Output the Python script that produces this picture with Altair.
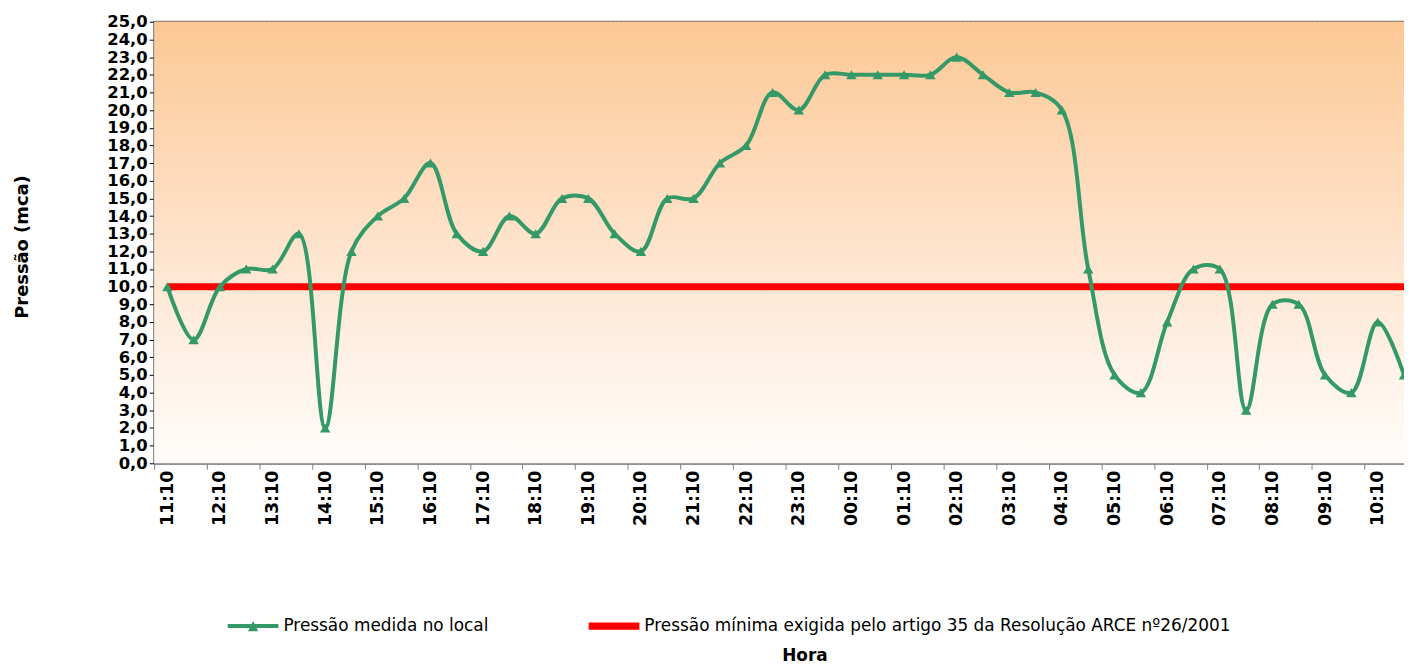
import altair as alt
import pandas as pd

# ---------------- data ----------------
times = ["11:10", "11:40", "12:10", "12:40", "13:10", "13:40", "14:10", "14:40",
         "15:10", "15:40", "16:10", "16:40", "17:10", "17:40", "18:10", "18:40",
         "19:10", "19:40", "20:10", "20:40", "21:10", "21:40", "22:10", "22:40",
         "23:10", "23:40", "00:10", "00:40", "01:10", "01:40", "02:10", "02:40",
         "03:10", "03:40", "04:10", "04:40", "05:10", "05:40", "06:10", "06:40",
         "07:10", "07:40", "08:10", "08:40", "09:10", "09:40", "10:10", "10:40"]
pressure = [10, 7, 10, 11, 11, 13, 2, 12, 14, 15, 17, 13,
            12, 14, 13, 15, 15, 13, 12, 15, 15, 17, 18, 21,
            20, 22, 22, 22, 22, 22, 23, 22, 21, 21, 20, 11,
            5, 4, 8, 11, 11, 3, 9, 9, 5, 4, 8, 5]
minimum = [10, 10, 10, 10, 10, 10, 10, 10, 10, 10, 10, 10,
           10, 10, 10, 10, 10, 10, 10, 10, 10, 10, 10, 10,
           10, 10, 10, 10, 10, 10, 10, 10, 10, 10, 10, 10,
           10, 10, 10, 10, 10, 10, 10, 10, 10, 10, 10, 10]
series_names = ["Pressão medida no local",
                "Pressão mínima exigida pelo artigo 35 da Resolução ARCE nº26/2001"]
y_ticks = [0, 1, 2, 3, 4, 5, 6, 7, 8, 9, 10, 11, 12, 13, 14, 15, 16, 17, 18, 19, 20, 21, 22, 23, 24, 25]
x_label_idx = list(range(0, len(times), 2))

idx = list(range(len(times)))
df = pd.DataFrame({"i": idx, "hora": times, "p": pressure, "m": minimum})
bg_df = pd.DataFrame({"x0": [-0.5], "x1": [len(times) - 1], "y0": [0], "y1": [25]})
leg_df = pd.DataFrame({"serie": series_names, "i": [0, 0], "p": [-5, -5]})

GREEN = "#339966"
RED = "#FF0000"
W, H = 1257, 444
cat_px = W / (len(times) - 1 + 0.5)

label_expr = "[" + ",".join("'%s'" % t for t in times) + "][datum.value]"

x_scale = alt.Scale(domain=[-0.5, len(times) - 1], nice=False, zero=False)
y_scale = alt.Scale(domain=[0, 25], nice=False, zero=True)

x_axis = alt.Axis(
    values=x_label_idx, labelExpr=label_expr, labelAngle=270,
    tickOffset=-cat_px / 2, labelOffset=cat_px / 2,
    grid=False, domainColor="#808080", domainWidth=2,
    tickColor="#808080", tickSize=6, tickWidth=1,
    labelFont="DejaVu Sans", labelFontWeight="bold", labelFontSize=17.5,
    labelColor="black", labelPadding=1,
    title="Hora", titleFont="DejaVu Sans", titleFontWeight="bold", titleFontSize=17,
    titleColor="black", titleY=185, titleX=654, titleBaseline="top", titleAlign="center",
)
y_axis = alt.Axis(
    values=y_ticks, labelExpr="replace(format(datum.value, '.1f'), '.', ',')",
    grid=True, gridColor="black", gridDash=[2, 2], gridWidth=1,
    domainColor="#808080", domainWidth=2, tickColor="black", tickSize=5,
    labelFont="DejaVu Sans", labelFontWeight="bold", labelFontSize=16.5,
    labelColor="black", labelPadding=2,
    title="Pressão (mca)", titleFont="DejaVu Sans", titleFontWeight="bold",
    titleFontSize=18, titleColor="black", titleAngle=270,
    titleX=-132, titleY=226, titleAlign="center", titleBaseline="middle",
)

gradient = alt.Gradient(
    gradient="linear",
    stops=[alt.GradientStop(color="#FCC894", offset=0),
           alt.GradientStop(color="#FEE3CC", offset=0.5),
           alt.GradientStop(color="#FFFDFB", offset=1)],
    x1=0, x2=0, y1=0, y2=1,
)

bg = alt.Chart(bg_df).mark_rect(color=gradient).encode(
    x=alt.X("x0:Q", scale=x_scale, axis=x_axis),
    x2="x1",
    y=alt.Y("y0:Q", scale=y_scale, axis=y_axis),
    y2="y1",
)

red = alt.Chart(df).mark_line(color=RED, strokeWidth=7, clip=True).encode(
    x=alt.X("i:Q", scale=x_scale, axis=x_axis),
    y=alt.Y("m:Q", scale=y_scale, axis=y_axis),
)

green = alt.Chart(df).mark_line(color=GREEN, strokeWidth=4, interpolate="catmull-rom", clip=True).encode(
    x=alt.X("i:Q", scale=x_scale, axis=x_axis),
    y=alt.Y("p:Q", scale=y_scale, axis=y_axis),
)

pts = alt.Chart(df).mark_point(shape="triangle-up", filled=True, size=110, color=GREEN,
                               opacity=1, clip=True).encode(
    x=alt.X("i:Q", scale=x_scale, axis=x_axis),
    y=alt.Y("p:Q", scale=y_scale, axis=y_axis),
)

green_sym = "M-1,-0.08H1V0.08H-1Z M-0.2,0.2L0,-0.2L0.2,0.2Z"
red_sym = "M-1,-0.14H1V0.14H-1Z"

legend = alt.Legend(
    title=None, orient="none", legendX=74, legendY=582, direction="horizontal",
    columns=2, columnPadding=100, symbolSize=2601, labelOffset=5,
    labelFont="DejaVu Sans", labelFontSize=17, labelColor="black", labelLimit=1000,
    padding=0, symbolStrokeWidth=0, symbolOpacity=1,
)

leg = alt.Chart(leg_df).mark_point(filled=True, opacity=1, clip=True).encode(
    x=alt.X("i:Q", scale=x_scale, axis=x_axis),
    y=alt.Y("p:Q", scale=y_scale, axis=y_axis),
    color=alt.Color("serie:N", scale=alt.Scale(domain=series_names, range=[GREEN, RED]),
                    legend=legend, title=None),
    shape=alt.Shape("serie:N", scale=alt.Scale(domain=series_names, range=[green_sym, red_sym]),
                    legend=legend, title=None),
)

chart = alt.layer(bg, red, green, pts, leg).properties(
    width=W, height=H,
    padding={"left": 147, "top": 12, "right": 0, "bottom": 201},
    autosize=alt.AutoSizeParams(type="none"),
    background="white",
).configure_view(stroke="#808080", strokeWidth=2)

chart.save("out.html", embed_options={"renderer": "svg", "actions": False})
